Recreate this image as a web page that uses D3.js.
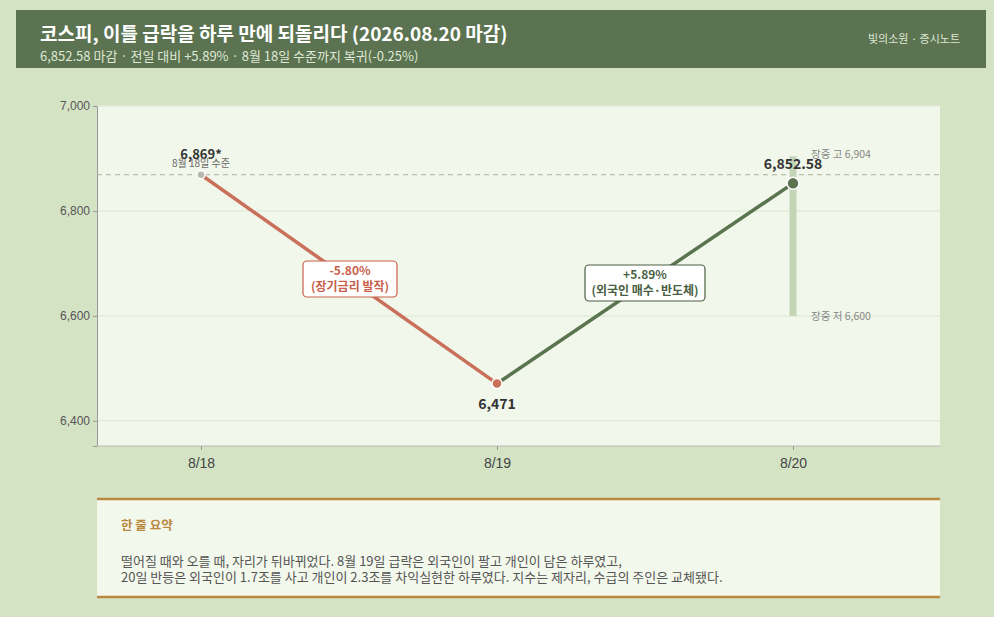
<!DOCTYPE html>
<html><head><meta charset="utf-8">
<script src="https://cdn.jsdelivr.net/npm/d3@7"></script>
<style>
body{margin:0;background:#d5e3c5;font-family:"Noto Sans CJK KR","Noto Sans",sans-serif;}
</style></head><body>
<svg id="chart" width="994" height="617"></svg>
<script>
const dates = ['8/18', '8/19', '8/20'];
const closes = [6869, 6471, 6852.58];
const valueLabels = ['6,869*', '6,471', '6,852.58'];
const yTicks = [6400, 6600, 6800, 7000];
const rangeHigh = 6904, rangeLow = 6600;
const refLevel = 6869;

const svg = d3.select('#chart');
const m = {left: 97, right: 940, top: 106, bottom: 446};

// header
svg.append('rect').attr('x', 16).attr('y', 10).attr('width', 970).attr('height', 58).attr('fill', '#5b7350');
svg.append('text').attr('x', 40).attr('y', 41).attr('fill', '#fff').style('font-size', '19px').style('font-weight', 'bold')
    .text('코스피, 이틀 급락을 하루 만에 되돌리다 (2026.08.20 마감)');
svg.append('text').attr('x', 40).attr('y', 61).attr('fill', '#dfe8d6').style('font-size', '13px')
    .text('6,852.58 마감 · 전일 대비 +5.89% · 8월 18일 수준까지 복귀(-0.25%)');
svg.append('text').attr('x', 960).attr('y', 43).attr('text-anchor', 'end').attr('fill', '#dfe8d6').style('font-size', '11px')
    .text('빛의소원 · 증시노트');

// panel
svg.append('rect').attr('x', m.left).attr('y', m.top).attr('width', m.right - m.left).attr('height', m.bottom - m.top).attr('fill', '#f1f7ea');

const x = d3.scalePoint().domain(dates).range([201, 793]);
const y = d3.scaleLinear().domain([6352, 7000]).range([m.bottom, m.top]);

yTicks.forEach(t => {
    svg.append('line').attr('x1', m.left).attr('x2', m.right).attr('y1', y(t)).attr('y2', y(t))
        .attr('stroke', '#e2ebd8').attr('stroke-width', 1.5);
});

const yAxis = svg.append('g').attr('transform', `translate(${m.left},0)`)
    .call(d3.axisLeft(y).tickValues(yTicks).tickFormat(d3.format(',')).tickSize(4));
yAxis.selectAll('text').attr('fill', '#555').style('font-size', '12px');
yAxis.selectAll('line,path').attr('stroke', '#999');

const xAxis = svg.append('g').attr('transform', `translate(0,${m.bottom})`)
    .call(d3.axisBottom(x).tickSize(4).tickPadding(8));
xAxis.select('path').attr('d', `M${m.left},0H${m.right}`).attr('stroke', '#bbb');
xAxis.selectAll('line').attr('stroke', '#999');
xAxis.selectAll('text').attr('fill', '#444').style('font-size', '14px');

// reference line
svg.append('line').attr('x1', m.left).attr('x2', m.right).attr('y1', y(refLevel)).attr('y2', y(refLevel))
    .attr('stroke', '#aab49f').attr('stroke-dasharray', '5,4');

// intraday range bar
svg.append('line').attr('x1', x('8/20')).attr('x2', x('8/20')).attr('y1', y(rangeHigh)).attr('y2', y(rangeLow))
    .attr('stroke', '#c4d4b6').attr('stroke-width', 7);
svg.append('text').attr('x', x('8/20') + 18).attr('y', y(rangeHigh) + 2).attr('fill', '#888').style('font-size', '10.5px').text('장중 고 6,904');
svg.append('text').attr('x', x('8/20') + 18).attr('y', y(rangeLow) + 4).attr('fill', '#888').style('font-size', '10.5px').text('장중 저 6,600');

// segments
const segColors = ['#c8705a', '#5a744f'];
for (let i = 0; i < 2; i++) {
    svg.append('line').attr('x1', x(dates[i])).attr('y1', y(closes[i])).attr('x2', x(dates[i + 1])).attr('y2', y(closes[i + 1]))
        .attr('stroke', segColors[i]).attr('stroke-width', 3.5);
}

// points
const ptColor = ['#b8b8b0', '#c8705a', '#5a744f'];
const ptR = [4, 5, 6];
closes.forEach((c, i) => {
    svg.append('circle').attr('cx', x(dates[i])).attr('cy', y(c)).attr('r', ptR[i])
        .attr('fill', ptColor[i]).attr('stroke', '#fff').attr('stroke-width', 1.5);
});

svg.append('text').attr('x', x('8/18')).attr('y', y(closes[0]) - 16).attr('text-anchor', 'middle')
    .attr('fill', '#333').style('font-size', '13px').style('font-weight', 'bold').text(valueLabels[0]);
svg.append('text').attr('x', x('8/18')).attr('y', y(closes[0]) - 8).attr('text-anchor', 'middle')
    .attr('fill', '#666').style('font-size', '10px').text('8월 18일 수준');
svg.append('text').attr('x', x('8/19')).attr('y', y(closes[1]) + 25).attr('text-anchor', 'middle')
    .attr('fill', '#333').style('font-size', '14px').style('font-weight', 'bold').text(valueLabels[1]);
svg.append('text').attr('x', x('8/20')).attr('y', y(closes[2]) - 14).attr('text-anchor', 'middle')
    .attr('fill', '#333').style('font-size', '14px').style('font-weight', 'bold').text(valueLabels[2]);

// change annotations
function badge(cx, cy, w, color, l1, l2) {
    svg.append('rect').attr('x', cx - w / 2).attr('y', cy - 18).attr('width', w).attr('height', 36).attr('rx', 4)
        .attr('fill', '#fff').attr('stroke', color).attr('stroke-width', 1.2);
    svg.append('text').attr('x', cx).attr('y', cy - 4).attr('text-anchor', 'middle').attr('fill', color)
        .style('font-size', '12px').style('font-weight', 'bold').text(l1);
    svg.append('text').attr('x', cx).attr('y', cy + 12).attr('text-anchor', 'middle').attr('fill', color)
        .style('font-size', '12px').style('font-weight', 'bold').text(l2);
}
badge(350, 279, 94, '#c8604a', '-5.80%', '(장기금리 발작)');
badge(645, 283, 120, '#4a5f42', '+5.89%', '(외국인 매수·반도체)');

// summary box
svg.append('rect').attr('x', 97).attr('y', 498).attr('width', 843).attr('height', 100).attr('rx', 4).attr('fill', '#f3f8ec');
svg.append('line').attr('x1', 97).attr('x2', 940).attr('y1', 499).attr('y2', 499).attr('stroke', '#b8893f').attr('stroke-width', 2.5);
svg.append('line').attr('x1', 97).attr('x2', 940).attr('y1', 597).attr('y2', 597).attr('stroke', '#b8893f').attr('stroke-width', 2.5);
svg.append('text').attr('x', 121).attr('y', 530).attr('fill', '#b8893f').style('font-size', '12.5px').style('font-weight', 'bold').text('한 줄 요약');
svg.append('text').attr('x', 121).attr('y', 566).attr('fill', '#555').style('font-size', '13px')
    .text('떨어질 때와 오를 때, 자리가 뒤바뀌었다. 8월 19일 급락은 외국인이 팔고 개인이 담은 하루였고,');
svg.append('text').attr('x', 121).attr('y', 582).attr('fill', '#555').style('font-size', '13px')
    .text('20일 반등은 외국인이 1.7조를 사고 개인이 2.3조를 차익실현한 하루였다. 지수는 제자리, 수급의 주인은 교체됐다.');
</script></body></html>
